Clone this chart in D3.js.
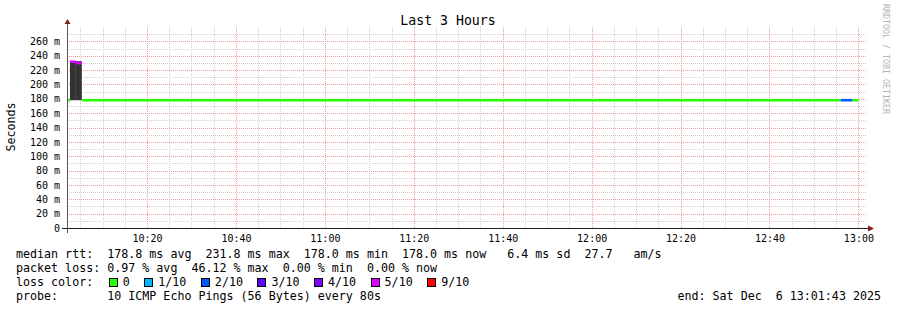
<!DOCTYPE html>
<html>
<head>
<meta charset="utf-8">
<script src="https://cdn.jsdelivr.net/npm/d3@7"></script>
<style>
  body { margin: 0; background: #fff; }
  svg { display: block; }
  text { font-family: "DejaVu Sans Mono", monospace; fill: #000; white-space: pre; }
</style>
</head>
<body>
<div id="chart"></div>
<script>
// smokeping style rtt chart, last 3 hours

// time window and 80s steps (HH:MM:SS)
const windowStart = "10:02:00";
const windowEnd = "13:02:00";
const stepStart = ["10:02:00", "10:02:40", "10:04:00", "10:05:20", "12:56:00", "12:58:40"];
const stepEnd   = ["10:02:40", "10:04:00", "10:05:20", "12:56:00", "12:58:40", "13:00:00"];
const medianMs  = [178.0, 231.6, 229.8, 178.0, 178.0, 178.0];
const lostPings = [0, 5, 5, 0, 2, 0];
const smokeLow  = [null, 178.0, 178.0, null, null, null];
const smokeHigh = [null, 232.4, 232.4, null, null, null];

const yTicks = [0, 20, 40, 60, 80, 100, 120, 140, 160, 180, 200, 220, 240, 260];

const lossSteps  = [0, 1, 2, 3, 4, 5, 9];
const lossLabels = ["0", "1/10", "2/10", "3/10", "4/10", "5/10", "9/10"];
const lossColors = ["#26ff00", "#00b8ff", "#0059ff", "#5e00ff", "#7e00ff", "#dd00ff", "#ff0000"];

const legendLines = [
  "median rtt:  178.8 ms avg  231.8 ms max  178.0 ms min  178.0 ms now   6.4 ms sd  27.7   am/s",
  "packet loss: 0.97 % avg  46.12 % max  0.00 % min  0.00 % now",
  "loss color:",
  "probe:       10 ICMP Echo Pings (56 Bytes) every 80s"
];
const endLabel = "end: Sat Dec  6 13:01:43 2025";

const width = 897, height = 310;
const parseT = d3.timeParse("%H:%M:%S");
const charW = 7.02;

const x = d3.scaleTime()
  .domain([parseT(windowStart), parseT(windowEnd)])
  .range([67, 867.3]);
const y = d3.scaleLinear().domain([0, 280]).range([228, 27]);
const lossColor = d3.scaleThreshold()
  .domain(lossSteps.slice(1))
  .range(lossColors);

const crisp = v => Math.round(v) + 0.5;

const svg = d3.select("#chart").append("svg")
  .attr("width", width).attr("height", height);
svg.append("rect").attr("width", width).attr("height", height).attr("fill", "#fff");

// grid
const grid = svg.append("g").attr("shape-rendering", "crispEdges");
const [t0, t1] = x.domain();
const minorT = d3.timeMinute.every(5).range(t0, t1).filter(d => d.getMinutes() % 20 !== 0);
const majorT = d3.timeMinute.every(20).range(t0, t1);
const minorY = d3.range(10, 280, 20);

grid.selectAll(".hmin").data(minorY).join("line")
  .attr("x1", 67).attr("x2", 867)
  .attr("y1", d => crisp(y(d))).attr("y2", d => crisp(y(d)))
  .attr("stroke", "#d2d2d2").attr("stroke-dasharray", "1,1");
grid.selectAll(".vmin").data(minorT).join("line")
  .attr("x1", d => crisp(x(d))).attr("x2", d => crisp(x(d)))
  .attr("y1", 27).attr("y2", 228)
  .attr("stroke", "#d2d2d2").attr("stroke-dasharray", "1,1");
grid.selectAll(".hmaj").data(yTicks.slice(1)).join("line")
  .attr("x1", 67).attr("x2", 867)
  .attr("y1", d => crisp(y(d))).attr("y2", d => crisp(y(d)))
  .attr("stroke", "#ee9c9c").attr("stroke-dasharray", "1,1");
grid.selectAll(".vmaj").data(majorT).join("line")
  .attr("x1", d => crisp(x(d))).attr("x2", d => crisp(x(d)))
  .attr("y1", 27).attr("y2", 228)
  .attr("stroke", "#ee9c9c").attr("stroke-dasharray", "1,1");

// data rows
const rows = stepStart.map((s, i) => ({
  t0: parseT(s), t1: parseT(stepEnd[i]),
  median: medianMs[i], loss: lostPings[i],
  lo: smokeLow[i], hi: smokeHigh[i]
}));

// smoke
svg.append("g").selectAll("rect").data(rows.filter(d => d.hi != null)).join("rect")
  .attr("x", d => x(d.t0)).attr("width", d => x(d.t1) - x(d.t0))
  .attr("y", d => y(d.hi)).attr("height", d => y(d.lo) - y(d.hi))
  .attr("fill", "#333");

// median line coloured by loss
svg.append("g").selectAll("line").data(rows).join("line")
  .attr("x1", d => x(d.t0)).attr("x2", d => x(d.t1))
  .attr("y1", d => y(d.median)).attr("y2", d => y(d.median))
  .attr("stroke", d => lossColor(d.loss))
  .attr("stroke-width", 2.6);

// axes labels
const yAxis = svg.append("g")
  .attr("transform", "translate(67,0)")
  .call(d3.axisLeft(y).tickValues(yTicks).tickSize(0).tickPadding(7)
    .tickFormat(d => d === 0 ? "0" : `${d} m`));
yAxis.select(".domain").remove();
yAxis.selectAll(".tick line").remove();
yAxis.selectAll("text").style("font-family", "DejaVu Sans Mono").style("font-size", "10px").attr("fill", "#000");

const xAxis = svg.append("g")
  .attr("transform", "translate(0,228)")
  .call(d3.axisBottom(x).ticks(d3.timeMinute.every(20)).tickSize(0).tickPadding(6.5)
    .tickFormat(d3.timeFormat("%H:%M")));
xAxis.select(".domain").remove();
xAxis.selectAll(".tick line").remove();
xAxis.selectAll("text").style("font-family", "DejaVu Sans Mono").style("font-size", "10px").attr("fill", "#000");

// axis lines and arrows
svg.append("line").attr("x1", 67.5).attr("x2", 67.5).attr("y1", 233).attr("y2", 24)
  .attr("stroke", "#555");
svg.append("line").attr("x1", 62).attr("x2", 869).attr("y1", 228.5).attr("y2", 228.5)
  .attr("stroke", "#1f1f1f");
svg.append("path").attr("d", "M64.5,24L67.5,19L70.5,24Z").attr("fill", "#7f1f1f");
svg.append("path").attr("d", "M868,225.5L874,228.5L868,231.5Z").attr("fill", "#7f1f1f");

// title, axis title, watermark
svg.append("text").attr("x", 448).attr("y", 20).attr("text-anchor", "middle")
  .attr("dominant-baseline", "central").style("font-size", "13.2px").text("Last 3 Hours");
svg.append("text").attr("transform", "translate(11,127) rotate(-90)")
  .attr("text-anchor", "middle").attr("dominant-baseline", "central")
  .style("font-size", "11.67px").text("Seconds");
svg.append("text").attr("transform", "translate(886,4) rotate(90)")
  .attr("dominant-baseline", "central")
  .style("font-size", "8.3px").style("fill", "#b4b4b4")
  .text("RRDTOOL / TOBI OETIKER");

// legend
const legend = svg.append("g").style("font-size", "11.67px");
legend.selectAll("text.line").data(legendLines).join("text")
  .attr("class", "line")
  .attr("x", 16).attr("y", (d, i) => 254 + i * 14)
  .attr("dominant-baseline", "central")
  .text(d => d);

legend.append("text").attr("x", 881).attr("y", 254 + 3 * 14)
  .attr("text-anchor", "end").attr("dominant-baseline", "central").text(endLabel);

let lx = 16 + 13 * charW + 1.5;
lossLabels.forEach((lab, i) => {
  legend.append("rect")
    .attr("x", lx + 0.5).attr("y", 278.5).attr("width", 8).attr("height", 8)
    .attr("fill", lossColors[i]).attr("stroke", "#000").attr("stroke-width", 1)
    .attr("shape-rendering", "crispEdges");
  legend.append("text").attr("x", lx + 14).attr("y", 282)
    .attr("dominant-baseline", "central").text(lab);
  lx += 14 + lab.length * charW + 14.5;
});
</script>
</body>
</html>
